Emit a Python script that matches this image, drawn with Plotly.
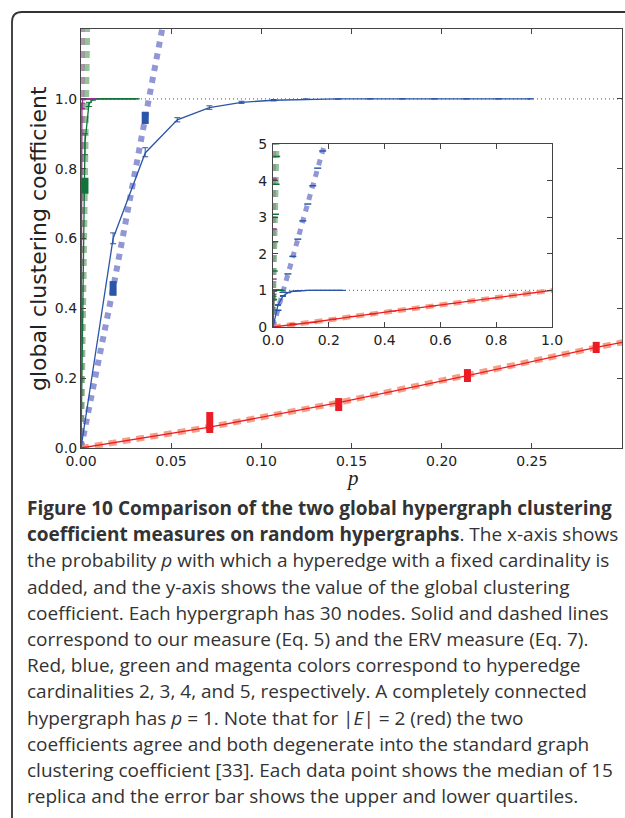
import plotly.graph_objects as go

W, H = 625, 818

# ---------------- data ----------------
RED_P = [0, 0.0714, 0.1429, 0.2143, 0.2857, 0.3571, 0.4286, 0.5, 0.5714, 0.6429, 0.7143, 0.7857, 0.8571, 0.9286, 1.0]
RED_MED = [0, 0.060, 0.130, 0.207, 0.288, 0.360, 0.432, 0.503, 0.574, 0.645, 0.716, 0.786, 0.857, 0.929, 1.0]
RED_Q1 = [0, 0.043, 0.106, 0.189, 0.272, 0.345, 0.418, 0.490, 0.562, 0.634, 0.706, 0.777, 0.850, 0.923, 0.995]
RED_Q3 = [0, 0.103, 0.143, 0.226, 0.304, 0.375, 0.446, 0.516, 0.586, 0.656, 0.726, 0.795, 0.864, 0.935, 1.0]

BLUE_P = [0, 0.0178, 0.0356, 0.0534, 0.0712, 0.089, 0.1068, 0.1246, 0.1424, 0.1602, 0.178, 0.1958, 0.2136, 0.2314, 0.2492]
BLUE_MED = [0, 0.600, 0.845, 0.940, 0.975, 0.990, 0.996, 0.999, 1.0, 1.0, 1.0, 1.0, 1.0, 1.0, 1.0]
BLUE_Q1 = [0, 0.585, 0.834, 0.934, 0.970, 0.987, 0.994, 0.998, 0.999, 1.0, 1.0, 1.0, 1.0, 1.0, 1.0]
BLUE_Q3 = [0, 0.616, 0.860, 0.946, 0.980, 0.993, 0.998, 1.0, 1.0, 1.0, 1.0, 1.0, 1.0, 1.0, 1.0]
BLUE_ERV = [0, 0.457, 0.945, 1.45, 1.93, 2.40, 2.90, 3.36, 3.86, 4.34, 4.81, 5.30, 5.78, 6.25, 6.72]
BLUE_ERV_Q1 = [0, 0.436, 0.928, 1.43, 1.91, 2.38, 2.88, 3.34, 3.84, 4.32, 4.79, 5.28, 5.76, 6.23, 6.70]
BLUE_ERV_Q3 = [0, 0.478, 0.963, 1.47, 1.95, 2.42, 2.92, 3.38, 3.88, 4.36, 4.83, 5.32, 5.80, 6.27, 6.74]

GREEN_P = [0, 0.0022, 0.0044, 0.0066, 0.0088, 0.011, 0.0132, 0.0154, 0.0176, 0.0198, 0.022, 0.0242, 0.0264, 0.0286, 0.0308]
GREEN_MED = [0, 0.875, 0.985, 0.998, 1.0, 1.0, 1.0, 1.0, 1.0, 1.0, 1.0, 1.0, 1.0, 1.0, 1.0]
GREEN_Q1 = [0, 0.840, 0.978, 0.996, 1.0, 1.0, 1.0, 1.0, 1.0, 1.0, 1.0, 1.0, 1.0, 1.0, 1.0]
GREEN_Q3 = [0, 0.900, 0.990, 1.0, 1.0, 1.0, 1.0, 1.0, 1.0, 1.0, 1.0, 1.0, 1.0, 1.0, 1.0]
GREEN_ERV = [0, 0.750, 1.53, 2.33, 3.08, 3.90, 4.66, 5.45, 6.20, 7.00, 7.80, 8.55, 9.30, 10.1, 10.9]
GREEN_ERV_Q1 = [0, 0.728, 1.51, 2.31, 3.06, 3.88, 4.64, 5.43, 6.18, 6.98, 7.78, 8.53, 9.28, 10.08, 10.88]
GREEN_ERV_Q3 = [0, 0.774, 1.55, 2.35, 3.10, 3.92, 4.68, 5.47, 6.22, 7.02, 7.82, 8.57, 9.32, 10.12, 10.92]

MAG_P = [0, 0.0005, 0.001, 0.0015, 0.002, 0.0025, 0.003, 0.0035, 0.004, 0.0045, 0.005, 0.0055, 0.006, 0.0065, 0.007]
MAG_MED = [0, 0.980, 0.999, 1.0, 1.0, 1.0, 1.0, 1.0, 1.0, 1.0, 1.0, 1.0, 1.0, 1.0, 1.0]
MAG_Q1 = [0, 0.972, 0.997, 1.0, 1.0, 1.0, 1.0, 1.0, 1.0, 1.0, 1.0, 1.0, 1.0, 1.0, 1.0]
MAG_Q3 = [0, 0.988, 1.0, 1.0, 1.0, 1.0, 1.0, 1.0, 1.0, 1.0, 1.0, 1.0, 1.0, 1.0, 1.0]
MAG_ERV = [0, 1.31, 2.68, 4.04, 5.40, 6.75, 8.10, 9.45, 10.8, 12.1, 13.5, 14.8, 16.2, 17.5, 18.9]
MAG_ERV_Q1 = [0, 1.29, 2.66, 4.02, 5.38, 6.73, 8.08, 9.43, 10.78, 12.08, 13.48, 14.78, 16.18, 17.48, 18.88]
MAG_ERV_Q3 = [0, 1.33, 2.70, 4.06, 5.42, 6.77, 8.12, 9.47, 10.82, 12.12, 13.52, 14.82, 16.22, 17.52, 18.92]

REF_LEVEL = 1.0
MAIN_X_TICKS = [0, 0.05, 0.10, 0.15, 0.20, 0.25]
MAIN_Y_TICKS = [0, 0.2, 0.4, 0.6, 0.8, 1.0]
INSET_X_TICKS = [0, 0.2, 0.4, 0.6, 0.8, 1.0]
INSET_Y_TICKS = [0, 1, 2, 3, 4, 5]

CAPTION = [
    "<b>Figure 10 Comparison of the two global hypergraph clustering</b>",
    "<b>coefficient measures on random hypergraphs</b>. The x-axis shows",
    "the probability <i>p</i> with which a hyperedge with a fixed cardinality is",
    "added, and the y-axis shows the value of the global clustering",
    "coefficient. Each hypergraph has 30 nodes. Solid and dashed lines",
    "correspond to our measure (Eq. 5) and the ERV measure (Eq. 7).",
    "Red, blue, green and magenta colors correspond to hyperedge",
    "cardinalities 2, 3, 4, and 5, respectively. A completely connected",
    "hypergraph has <i>p</i> = 1. Note that for |<i>E</i>| = 2 (red) the two",
    "coefficients agree and both degenerate into the standard graph",
    "clustering coefficient [33]. Each data point shows the median of 15",
    "replica and the error bar shows the upper and lower quartiles.",
]

# ---------------- styles ----------------
C_RED, C_BLUE, C_GREEN, C_MAG = "#ec1c24", "#2a55a8", "#10743a", "#982f90"
C_RED_D = "rgba(244,135,105,0.8)"
C_BLUE_D = "rgba(125,133,205,0.85)"
C_GREEN_D = "rgba(110,165,115,0.70)"
C_MAG_D = "rgba(150,80,150,0.65)"


def px(x):
    return x / W


def py(y):
    return 1 - y / H


fig = go.Figure()


def diff(a, b):
    return [max(u - v, 0) for u, v in zip(a, b)]


def add_all(xa, ya, inset):
    dw = 5 if inset else 6
    # reference line
    fig.add_trace(go.Scatter(x=[0, 1.0 if inset else 0.3], y=[REF_LEVEL, REF_LEVEL], mode="lines",
                             line=dict(color="#777", width=1.2, dash="1px,3px"),
                             xaxis=xa, yaxis=ya, hoverinfo="skip"))
    # ERV dashed lines
    for xs, ys, col, dash in [(MAG_P, MAG_ERV, C_MAG_D, "7px,6px"),
                              (GREEN_P, GREEN_ERV, C_GREEN_D, "7px,6px"),
                              (BLUE_P, BLUE_ERV, C_BLUE_D, "6px,6px"),
                              (RED_P, RED_MED, C_RED_D, "8px,6px")]:
        fig.add_trace(go.Scatter(x=xs, y=ys, mode="lines",
                                 line=dict(color=col, width=dw, dash=dash),
                                 xaxis=xa, yaxis=ya, hoverinfo="skip"))
    # solid measure lines with quartile error bars
    for xs, med, q1, q3, col in [(RED_P, RED_MED, RED_Q1, RED_Q3, C_RED),
                                 (BLUE_P, BLUE_MED, BLUE_Q1, BLUE_Q3, C_BLUE),
                                 (GREEN_P, GREEN_MED, GREEN_Q1, GREEN_Q3, C_GREEN),
                                 (MAG_P, MAG_MED, MAG_Q1, MAG_Q3, C_MAG)]:
        eb = None
        if col != C_RED:
            eb = dict(type="data", symmetric=False, array=diff(q3, med), arrayminus=diff(med, q1),
                      color=col, thickness=1, width=3)
        fig.add_trace(go.Scatter(x=xs, y=med, mode="lines", line=dict(color=col, width=1.3),
                                 error_y=eb, xaxis=xa, yaxis=ya, hoverinfo="skip"))
    # ERV quartile bars (thick)
    for xs, med, q1, q3, col in [(RED_P, RED_MED, RED_Q1, RED_Q3, C_RED),
                                 (BLUE_P, BLUE_ERV, BLUE_ERV_Q1, BLUE_ERV_Q3, C_BLUE),
                                 (GREEN_P, GREEN_ERV, GREEN_ERV_Q1, GREEN_ERV_Q3, C_GREEN),
                                 (MAG_P, MAG_ERV, MAG_ERV_Q1, MAG_ERV_Q3, C_MAG)]:
        fig.add_trace(go.Scatter(x=xs[1:], y=med[1:], mode="markers",
                                 marker=dict(size=1, color="rgba(0,0,0,0)"),
                                 error_y=dict(type="data", symmetric=False,
                                              array=diff(q3, med)[1:], arrayminus=diff(med, q1)[1:],
                                              color=col, thickness=7, width=0),
                                 xaxis=xa, yaxis=ya, hoverinfo="skip"))


add_all("x", "y", False)
add_all("x2", "y2", True)

axis_common = dict(showgrid=False, zeroline=False, showline=True, linecolor="#444", linewidth=1.3,
                   mirror="ticks", ticks="inside", ticklen=5, tickcolor="#444", tickwidth=1,
                   automargin=False,
                   tickfont=dict(family="DejaVu Sans", size=14, color="#222"))

fig.update_layout(
    width=W, height=H, margin=dict(l=0, r=0, t=0, b=0, pad=0, autoexpand=False),
    paper_bgcolor="white", plot_bgcolor="white", showlegend=False,
    xaxis=dict(domain=[px(81), px(622)], range=[0, 0.3], tickvals=MAIN_X_TICKS,
               ticktext=[f"{v:.2f}" for v in MAIN_X_TICKS], anchor="y", **axis_common),
    yaxis=dict(domain=[py(448), py(29)], range=[0, 1.2], tickvals=MAIN_Y_TICKS,
               ticktext=[f"{v:.1f}" for v in MAIN_Y_TICKS], anchor="x", **axis_common),
    xaxis2=dict(domain=[px(273), px(552)], range=[0, 1.0], tickvals=INSET_X_TICKS,
                ticktext=[f"{v:.1f}" for v in INSET_X_TICKS], anchor="y2", **axis_common),
    yaxis2=dict(domain=[py(327), py(144)], range=[0, 5], tickvals=INSET_Y_TICKS,
                ticktext=[str(v) for v in INSET_Y_TICKS], anchor="x2", ticklabelstandoff=2,
                **axis_common),
)

annos = [
    dict(x=px(38), y=py(239), xref="paper", yref="paper", text="global clustering coefficient",
         textangle=-90, xanchor="center", yanchor="middle", showarrow=False,
         font=dict(family="DejaVu Sans", size=22, color="#222")),
    dict(x=px(352), y=py(478), xref="paper", yref="paper", text="<i>p</i>", showarrow=False,
         xanchor="center", yanchor="middle",
         font=dict(family="Liberation Serif", size=21, color="#222")),
]
for i, line in enumerate(CAPTION):
    annos.append(dict(x=px(25), y=py(508 + 26.2 * i), xref="paper", yref="paper", text=line,
                      xanchor="left", yanchor="middle", showarrow=False,
                      font=dict(family="Open Sans", size=19, color="#333")))
fig.update_layout(annotations=annos)

# rounded frame (top-left corner)
fig.add_shape(type="path", xref="paper", yref="paper",
              path=f"M {px(12)},{py(830)} L {px(12)},{py(22)} Q {px(12)},{py(12)} {px(22)},{py(12)} L {px(640)},{py(12)}",
              line=dict(color="#333", width=1.8))

fig.write_html("out.html")
